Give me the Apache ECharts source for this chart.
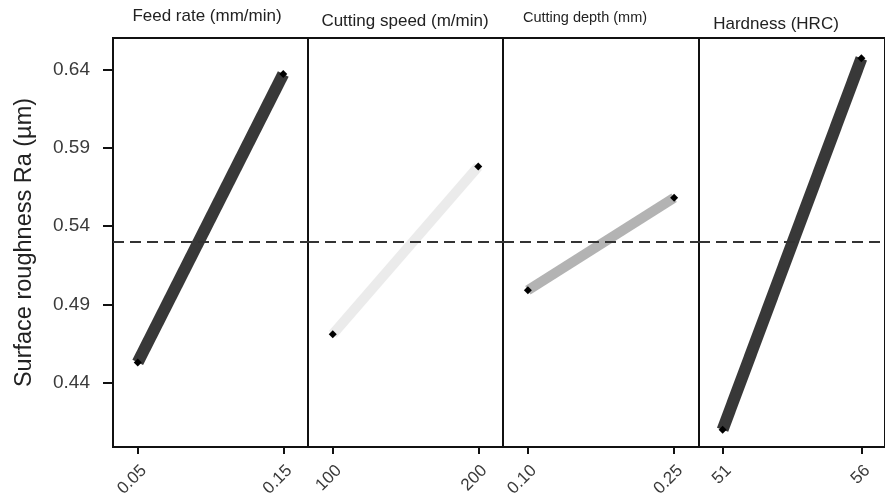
<!DOCTYPE html>
<html><head><meta charset="utf-8">
<script src="https://cdn.jsdelivr.net/npm/echarts@6/dist/echarts.min.js"></script>
<style>html,body{margin:0;padding:0;background:#fff}#c{width:885px;height:502px}</style>
</head><body><div id="c"></div>
<script>
// ---- data ----
const panelTitles = ['Feed rate (mm/min)', 'Cutting speed (m/min)', 'Cutting depth (mm)', 'Hardness (HRC)'];
const feedLevels  = [0.05, 0.15];
const feedMeans   = [0.453, 0.637];
const speedLevels = [100, 200];
const speedMeans  = [0.471, 0.578];
const depthLevels = [0.10, 0.25];
const depthMeans  = [0.499, 0.558];
const hardLevels  = [51, 56];
const hardMeans   = [0.410, 0.647];
const yTickValues = [0.44, 0.49, 0.54, 0.59, 0.64];
const grandMean   = 0.530;
const yMin = 0.399, yMax = 0.66;

// ---- styling / layout ----
const FONT = 'Liberation Sans, Arial, Helvetica, sans-serif';
const panels = [
  { levels: feedLevels,  means: feedMeans,  dec: 2, color: '#383838', lw: 12, left: 113, width: 195, tx: 207, ty: 16, ts: 17 },
  { levels: speedLevels, means: speedMeans, dec: 0, color: '#ebebeb', lw: 10, left: 308, width: 195, tx: 405, ty: 21, ts: 17 },
  { levels: depthLevels, means: depthMeans, dec: 2, color: '#b3b3b3', lw: 10, left: 503, width: 196, tx: 585, ty: 18, ts: 14.5 },
  { levels: hardLevels,  means: hardMeans,  dec: 0, color: '#383838', lw: 12, left: 699, width: 195, tx: 776, ty: 24, ts: 17 }
];

const grids = [], xAxes = [], yAxes = [], series = [], graphics = [];
panels.forEach((p, i) => {
  const a = p.levels[0], b = p.levels[1], pad = 0.17 * (b - a);
  grids.push({ left: p.left, width: p.width, top: 38, bottom: 55, show: true,
    borderColor: '#111', borderWidth: 2, backgroundColor: 'transparent' });
  xAxes.push({
    type: 'value', gridIndex: i, min: a - pad, max: b + pad,
    axisLine: { show: false }, splitLine: { show: false },
    axisTick: { show: true, length: 7, customValues: p.levels, lineStyle: { color: '#111', width: 2 } },
    axisLabel: { show: true, customValues: p.levels, rotate: 45, margin: 15, verticalAlign: 'top',
      fontSize: 17, fontFamily: FONT, color: '#3a3a3a',
      formatter: v => Number(v).toFixed(p.dec) }
  });
  const y = {
    type: 'value', gridIndex: i, min: yMin, max: yMax,
    splitLine: { show: false }, axisLine: { show: false },
    axisTick: { show: i === 0, length: 10, customValues: yTickValues, lineStyle: { color: '#111', width: 2 } },
    axisLabel: { show: i === 0, customValues: yTickValues, margin: 23, fontSize: 19, fontFamily: FONT, color: '#3a3a3a',
      formatter: v => Number(v).toFixed(2) }
  };
  if (i === 0) {
    y.name = 'Surface roughness Ra (\u00b5m)';
    y.nameLocation = 'middle';
    y.nameGap = 76;
    y.nameTextStyle = { fontSize: 23.5, fontFamily: FONT, color: '#222' };
  }
  yAxes.push(y);
  series.push({
    type: 'line', xAxisIndex: i, yAxisIndex: i,
    data: p.levels.map((lv, k) => [lv, p.means[k]]),
    lineStyle: { color: p.color, width: p.lw, cap: 'butt' },
    itemStyle: { color: '#000' },
    symbol: 'diamond', symbolSize: 8, showSymbol: true,
    animation: false, silent: true, z: 3,
    markLine: {
      silent: true, symbol: 'none', label: { show: false },
      lineStyle: { color: '#333', width: 2, type: [11, 6] },
      data: [{ yAxis: grandMean }], animation: false
    }
  });
  graphics.push({ type: 'text', x: p.tx, y: p.ty,
    style: { text: panelTitles[i], fontSize: p.ts, fontFamily: FONT, fill: '#222',
      textAlign: 'center', textVerticalAlign: 'middle' } });
});

const chart = echarts.init(document.getElementById('c'), null, { renderer: 'canvas' });
chart.setOption({
  animation: false,
  backgroundColor: '#fff',
  grid: grids, xAxis: xAxes, yAxis: yAxes, series: series,
  graphic: graphics
});
</script></body></html>
